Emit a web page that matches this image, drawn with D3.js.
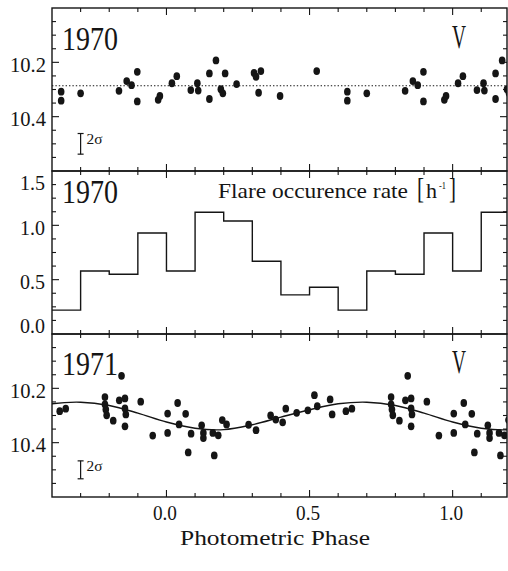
<!DOCTYPE html>
<html><head><meta charset="utf-8">
<script src="https://cdn.jsdelivr.net/npm/d3@7"></script>
<style>body{margin:0;background:#fff} svg{display:block}</style>
</head><body><svg id="c" width="508" height="571"></svg>
<script>
// ---------- data ----------
const phaseDomain = [-0.4, 1.19];
const xTickValues = [0, 0.5, 1.0];
const xTickLabels = ["0.0", "0.5", "1.0"];
const magTickValues = [10.2, 10.4];
const magTickLabels = ["10.2", "10.4"];
const rateTickValues = [0, 0.5, 1.0, 1.5];
const rateTickLabels = ["0.0", "0.5", "1.0", "1.5"];

// 1970 V photometry (phase folded, one cycle)
const phot1970Phase = [0.834,0.861,0.878,0.898,0.898,0.971,0.977,0.019,0.036,0.085,0.108,0.111,0.150,0.150,0.173,0.190,0.197,0.205,0.245,0.306,0.313,0.330,0.322,0.397,0.525,0.632,0.632,0.700];
const phot1970Mag   = [10.305,10.269,10.284,10.235,10.344,10.338,10.324,10.277,10.251,10.302,10.277,10.304,10.241,10.335,10.193,10.299,10.314,10.241,10.280,10.239,10.253,10.232,10.312,10.324,10.232,10.308,10.341,10.314];
const meanMag1970 = 10.286;

// 1970 flare occurrence rate per 0.1 phase bin [h^-1]
const flareBinStart = [0.0,0.1,0.2,0.3,0.4,0.5,0.6,0.7,0.8,0.9];
const flareRate     = [0.58,1.12,1.04,0.67,0.36,0.43,0.22,0.58,0.55,0.93];

// 1971 V photometry (phase folded, one cycle)
const phot1971Phase = [0.785,0.785,0.788,0.791,0.814,0.835,0.843,0.855,0.855,0.858,0.855,0.910,0.952,0.004,0.004,0.039,0.044,0.067,0.076,0.086,0.123,0.129,0.129,0.162,0.167,0.181,0.195,0.210,0.287,0.313,0.364,0.382,0.406,0.417,0.455,0.494,0.517,0.527,0.572,0.579,0.627,0.648];
const phot1971Mag   = [10.232,10.259,10.278,10.299,10.319,10.244,10.154,10.237,10.274,10.296,10.340,10.249,10.374,10.293,10.364,10.254,10.333,10.294,10.436,10.367,10.336,10.364,10.383,10.364,10.447,10.373,10.317,10.333,10.334,10.354,10.300,10.315,10.325,10.275,10.290,10.281,10.225,10.266,10.241,10.296,10.284,10.275];

// fitted light curve 1971 (samples)
const fitPhase = [0.0,0.1,0.2,0.3,0.4,0.5,0.6,0.7,0.8,0.9];
const fitMag   = [10.324,10.347,10.352,10.334,10.306,10.279,10.257,10.251,10.263,10.291];

// 2-sigma error bar
const errPhase = -0.3;
const errMag = 10.5;
const errHalf1970 = 0.038;
const errHalf1971 = 0.033;

// ---------- layout ----------
const svg = d3.select("#c");
const L = 52, R = 507;
const ink = "#151515";
const serif = "'Liberation Serif','DejaVu Serif',serif";
const x = d3.scaleLinear().domain(phaseDomain).range([L, R]);

const panels = [
  {id:"p1", top:8,   bottom:171, domain:[10.0,10.6], invert:true},
  {id:"p2", top:171, bottom:334, domain:[0,1.5], invert:false},
  {id:"p3", top:334, bottom:497, domain:[10.0,10.6], invert:true}
];
panels.forEach(p => {
  p.y = d3.scaleLinear().domain(p.domain).range(p.invert ? [p.top, p.bottom] : [p.bottom, p.top]);
});

const defs = svg.append("defs");
panels.forEach(p => {
  defs.append("clipPath").attr("id", "clip-" + p.id)
    .append("rect").attr("x", L).attr("y", p.top).attr("width", R - L).attr("height", p.bottom - p.top);
});

function replicate(phases, values) {
  const out = [];
  phases.forEach((ph, i) => {
    [-1, 0, 1].forEach(k => {
      const q = ph + k;
      if (q > phaseDomain[0] - 0.03 && q < phaseDomain[1] + 0.03) out.push([q, values[i]]);
    });
  });
  return out;
}

// ---------- frames & ticks ----------
const xMinor = d3.range(-3, 12).map(i => i / 10);
function drawFrame(p, yMinor, yMajorTest) {
  const g = svg.append("g").attr("stroke", ink).attr("fill", "none");
  g.append("rect").attr("x", L).attr("y", p.top).attr("width", R - L).attr("height", p.bottom - p.top)
    .attr("stroke-width", 1.4);
  xMinor.forEach(v => {
    const major = Math.abs(v * 2 - Math.round(v * 2)) < 1e-6;
    const len = major ? 7 : 4;
    const xx = x(v);
    g.append("line").attr("x1", xx).attr("x2", xx).attr("y1", p.top).attr("y2", p.top + len).attr("stroke-width", 1.1);
    g.append("line").attr("x1", xx).attr("x2", xx).attr("y1", p.bottom).attr("y2", p.bottom - len).attr("stroke-width", 1.1);
  });
  yMinor.forEach(v => {
    const yy = p.y(v);
    if (yy <= p.top + 0.5 || yy >= p.bottom - 0.5) return;
    const len = yMajorTest(v) ? 7 : 4;
    g.append("line").attr("x1", L).attr("x2", L + len).attr("y1", yy).attr("y2", yy).attr("stroke-width", 1.1);
    g.append("line").attr("x1", R).attr("x2", R - len).attr("y1", yy).attr("y2", yy).attr("stroke-width", 1.1);
  });
}
const magMinor = d3.range(0, 13).map(i => 10 + i * 0.05);
const isMagMajor = v => Math.abs(v * 5 - Math.round(v * 5)) < 1e-6;
drawFrame(panels[0], magMinor, isMagMajor);
drawFrame(panels[1], d3.range(0, 13).map(i => i * 0.125), v => Math.abs(v * 2 - Math.round(v * 2)) < 1e-6);
drawFrame(panels[2], magMinor, isMagMajor);

// ---------- tick labels ----------
function label(txt, xx, yy, size, len, anchor) {
  const t = svg.append("text").attr("x", xx).attr("y", yy).attr("font-family", serif)
    .attr("font-size", size).attr("fill", ink).attr("text-anchor", anchor || "start").text(txt);
  if (len) t.attr("textLength", len).attr("lengthAdjust", "spacingAndGlyphs");
  return t;
}
[panels[0], panels[2]].forEach(p => {
  magTickValues.forEach((v, i) => label(magTickLabels[i], 46, p.y(v) + 9.5, 22, 36, "end"));
});
rateTickValues.forEach((v, i) => {
  const p = panels[1];
  let yy = p.y(v) + 9.5;
  yy = Math.max(p.top + 19, Math.min(p.bottom - 1, yy));
  label(rateTickLabels[i], 45, yy, 22, 25, "end");
});
xTickValues.forEach((v, i) => label(xTickLabels[i], x(v) - 1.5, 520, 22, 24, "middle"));
label("Photometric Phase", 180, 545, 22, 190);

// ---------- panel 1 : 1970 photometry ----------
{
  const p = panels[0];
  const g = svg.append("g").attr("clip-path", "url(#clip-p1)");
  g.append("line").attr("x1", L).attr("x2", R).attr("y1", p.y(meanMag1970)).attr("y2", p.y(meanMag1970))
    .attr("stroke", ink).attr("stroke-width", 1.1).attr("stroke-dasharray", "1.4,2");
  g.selectAll("ellipse").data(replicate(phot1970Phase, phot1970Mag)).join("ellipse")
    .attr("cx", d => x(d[0])).attr("cy", d => p.y(d[1])).attr("rx", 3.3).attr("ry", 3.9).attr("fill", ink);
  label("1970", 62, 50, 34, 56);
  label("V", 452, 48, 34, 14);
}

// ---------- panel 2 : flare rate histogram ----------
{
  const p = panels[1];
  const bins = [];
  [-1, 0, 1].forEach(k => flareBinStart.forEach((s, i) => {
    const a = Math.round((s + k) * 10) / 10;
    if (a + 0.1 > phaseDomain[0] && a < phaseDomain[1]) bins.push([a, flareRate[i]]);
  }));
  bins.sort((a, b) => a[0] - b[0]);
  const pts = bins.slice();
  const last = bins[bins.length - 1];
  pts.push([Math.round((last[0] + 0.1) * 10) / 10, last[1]]);
  const line = d3.line().x(d => x(d[0])).y(d => p.y(d[1])).curve(d3.curveStepAfter);
  svg.append("g").attr("clip-path", "url(#clip-p2)").append("path").attr("d", line(pts))
    .attr("fill", "none").attr("stroke", ink).attr("stroke-width", 1.4);
  label("1970", 62, 203, 34, 56);
  label("Flare occurence rate", 218, 198, 22, 190);
  label("[", 417, 198, 30, 7);
  label("h", 426, 198, 22, 11);
  label("-1", 439, 189, 11, 7);
  label("]", 449, 198, 30, 7);
}

// ---------- panel 3 : 1971 photometry ----------
{
  const p = panels[2];
  const g = svg.append("g").attr("clip-path", "url(#clip-p3)");
  const fit = [];
  [-1, 0, 1].forEach(k => fitPhase.forEach((ph, i) => fit.push([ph + k, fitMag[i]])));
  fit.sort((a, b) => a[0] - b[0]);
  const fitLine = d3.line().x(d => x(d[0])).y(d => p.y(d[1])).curve(d3.curveCatmullRom);
  g.append("path").attr("d", fitLine(fit.filter(d => d[0] > -0.75 && d[0] < 1.55)))
    .attr("fill", "none").attr("stroke", ink).attr("stroke-width", 1.4);
  g.selectAll("ellipse").data(replicate(phot1971Phase, phot1971Mag)).join("ellipse")
    .attr("cx", d => x(d[0])).attr("cy", d => p.y(d[1])).attr("rx", 3.3).attr("ry", 3.9).attr("fill", ink);
  label("1971", 62, 375, 34, 56);
  label("V", 452, 373, 34, 14);
}

// ---------- 2 sigma error bars ----------
[[panels[0], errHalf1970], [panels[2], errHalf1971]].forEach(([p, h]) => {
  const g = svg.append("g").attr("stroke", ink).attr("stroke-width", 1.2);
  const xx = x(errPhase);
  const y0 = p.y(errMag - h), y1 = p.y(errMag + h);
  g.append("line").attr("x1", xx).attr("x2", xx).attr("y1", y0).attr("y2", y1);
  g.append("line").attr("x1", xx - 3).attr("x2", xx + 3).attr("y1", y0).attr("y2", y0);
  g.append("line").attr("x1", xx - 3).attr("x2", xx + 3).attr("y1", y1).attr("y2", y1);
  label("2σ", xx + 6, y0 + 10, 15, 16);
});
</script></body></html>
